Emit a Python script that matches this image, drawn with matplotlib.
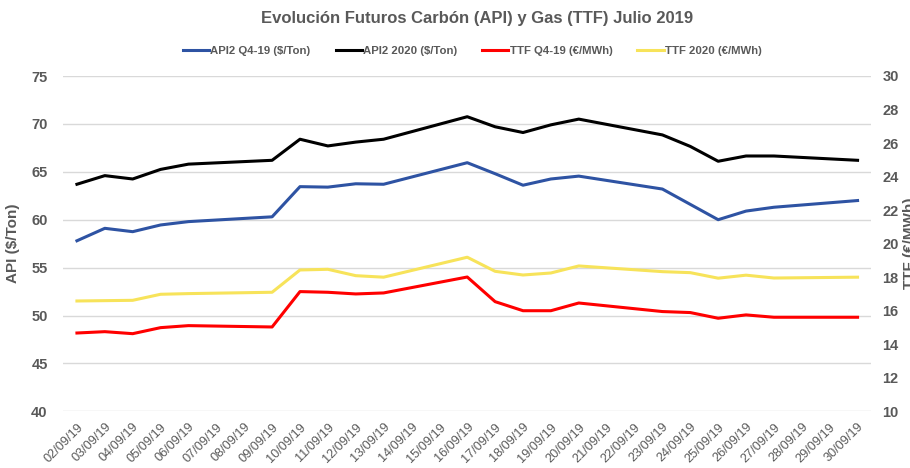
import matplotlib
matplotlib.use("Agg")
import matplotlib.pyplot as plt
import numpy as np

plt.rcParams['font.family'] = ['Liberation Sans', 'DejaVu Sans']

dates = ["02/09/19", "03/09/19", "04/09/19", "05/09/19", "06/09/19", "07/09/19", "08/09/19",
         "09/09/19", "10/09/19", "11/09/19", "12/09/19", "13/09/19", "14/09/19", "15/09/19",
         "16/09/19", "17/09/19", "18/09/19", "19/09/19", "20/09/19", "21/09/19", "22/09/19",
         "23/09/19", "24/09/19", "25/09/19", "26/09/19", "27/09/19", "28/09/19", "29/09/19",
         "30/09/19"]
N = None
# weekends have no quotes (None)
api2_q4 = [57.8, 59.1, 58.75, 59.45, 59.8, N, N, 60.3, 63.45, 63.4, 63.75, 63.7, N, N,
           65.95, 64.8, 63.6, 64.25, 64.55, N, N, 63.2, 61.6, 60.0, 60.9, 61.3, N, N, 62.0]
api2_2020 = [63.7, 64.6, 64.25, 65.25, 65.8, N, N, 66.2, 68.4, 67.7, 68.1, 68.4, N, N,
             70.75, 69.7, 69.1, 69.9, 70.5, N, N, 68.85, 67.65, 66.1, 66.65, 66.65, N, N, 66.2]
ttf_q4 = [14.67, 14.75, 14.63, 14.99, 15.11, N, N, 15.03, 17.14, 17.1, 17.0, 17.06, N, N,
          18.01, 16.54, 16.0, 16.0, 16.46, N, N, 15.95, 15.89, 15.55, 15.75, 15.61, N, N, 15.61]
ttf_2020 = [16.58, 16.6, 16.62, 16.98, 17.02, N, N, 17.1, 18.43, 18.47, 18.09, 18.0, N, N,
            19.19, 18.35, 18.13, 18.25, 18.67, N, N, 18.33, 18.27, 17.94, 18.12, 17.95, N, N, 18.0]

labels = ["API2 Q4-19 ($/Ton)", "API2 2020 ($/Ton)", "TTF Q4-19 (€/MWh)", "TTF 2020 (€/MWh)"]
colors = ["#2E53A3", "#000000", "#FF0000", "#F7E35A"]

gray = "#595959"

def pts(vals):
    x = [i for i, v in enumerate(vals) if v is not None]
    y = [v for v in vals if v is not None]
    return x, y

fig = plt.figure(figsize=(9.10, 4.68), dpi=100)
ax = fig.add_axes([63/910, 1-411.3/468, 808.5/910, (411.3-76)/468])
ax2 = ax.twinx()

lines = []
for vals, c, lab in zip([api2_q4, api2_2020], colors[:2], labels[:2]):
    x, y = pts(vals)
    l, = ax.plot(x, y, color=c, lw=2.2, label=lab, zorder=3)
    lines.append(l)
for vals, c, lab in zip([ttf_q4, ttf_2020], colors[2:], labels[2:]):
    x, y = pts(vals)
    l, = ax2.plot(x, y, color=c, lw=2.2, label=lab, zorder=3)
    lines.append(l)

ax.set_xlim(-0.5, len(dates) - 0.5)
ax.set_ylim(40, 75)
ax.set_yticks(np.arange(40, 76, 5))
ax2.set_ylim(10, 30)
ax2.set_yticks(np.arange(10, 31, 2))

ax.grid(axis='y', color='#D9D9D9', lw=1)
ax.set_axisbelow(True)
for a in (ax, ax2):
    for s in a.spines.values():
        s.set_visible(False)
    a.tick_params(length=0, colors=gray, labelsize=10.5)

ax.set_xticks(range(len(dates)))
ax.set_xticklabels(dates, rotation=45, ha='right', va='top', rotation_mode='anchor',
                   fontsize=9.2, color=gray)
ax.tick_params(axis='x', pad=7)
ax.tick_params(axis='y', pad=11)
ax2.tick_params(axis='y', pad=8)
for t in ax.get_yticklabels() + ax2.get_yticklabels():
    t.set_fontweight('bold')

ax.set_ylabel("API ($/Ton)", color=gray, fontsize=11, fontweight='bold')
ax.yaxis.set_label_coords((20 - 63) / 808.5, 0.5)
fig.text(903/910, 1-243/468, "TTF (€/MWh)", rotation=90, rotation_mode='anchor',
         ha='center', va='top', color=gray, fontsize=11, fontweight='bold')

fig.suptitle("Evolución Futuros Carbón (API) y Gas (TTF) Julio 2019", x=477/910, y=1-19/468,
             va='center', fontsize=12, fontweight='bold', color=gray)

fig.legend(lines, labels, loc='center', bbox_to_anchor=(0.519, 1-51/468), ncol=4,
           frameon=False, handlelength=2.3, handletextpad=0.1,
           columnspacing=2.2, labelcolor=gray, prop={'weight': 'bold', 'size': 8.2})

fig.savefig("out.png", dpi=100)
